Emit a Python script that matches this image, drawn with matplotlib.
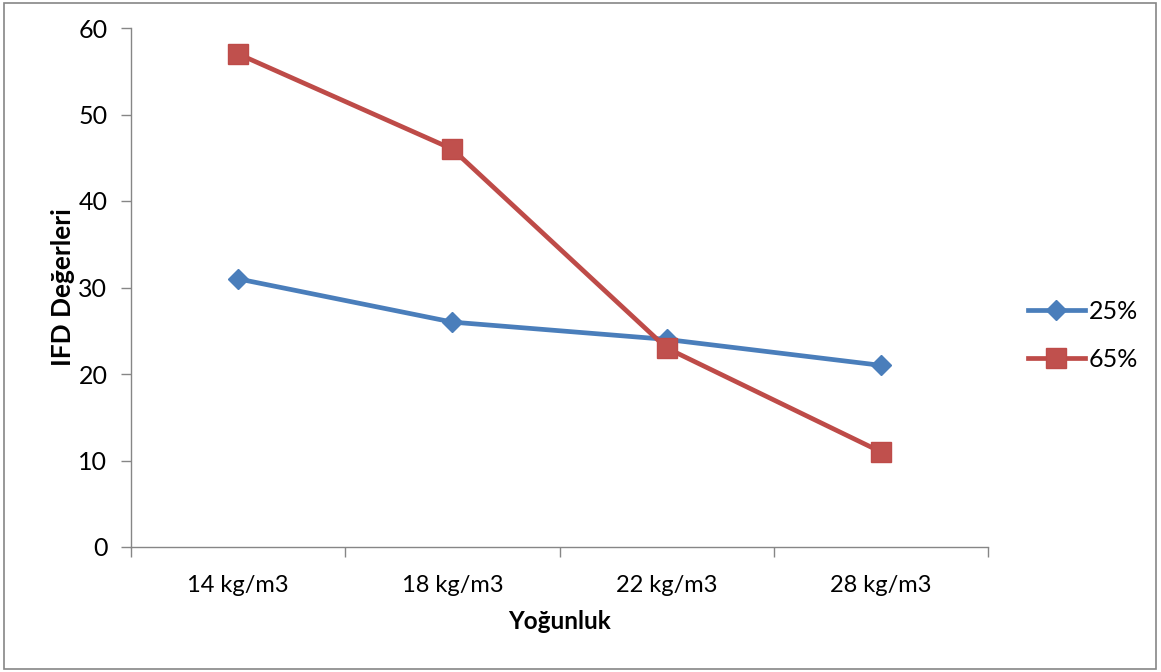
import matplotlib
matplotlib.use('Agg')
import matplotlib.pyplot as plt
from matplotlib.patches import Rectangle

categories = ['14 kg/m3', '18 kg/m3', '22 kg/m3', '28 kg/m3']
series_25 = [31, 26, 24, 21]
series_65 = [57, 46, 23, 11]
yticks = [0, 10, 20, 30, 40, 50, 60]

plt.rcParams['font.family'] = ['Lato', 'DejaVu Sans']

fig = plt.figure(figsize=(11.61, 6.72), dpi=100)
ax = fig.add_axes([131 / 1161, 125 / 672, 857 / 1161, 519 / 672])

x = list(range(len(categories)))
ax.plot(x, series_25, color='#4A7EBB', lw=3.4, marker='D', ms=10,
        mfc='#4A7EBB', mec='#4A7EBB', label='25%', zorder=3)
ax.plot(x, series_65, color='#BE4B48', lw=3.4, marker='s', ms=14,
        mfc='#C0504D', mec='#BE4B48', label='65%', zorder=3)

ax.set_xlim(-0.5, 3.5)
ax.set_ylim(0, 60)
ax.set_yticks(yticks)
ax.set_yticklabels([str(v) for v in yticks], fontsize=18)
ax.set_xticks([-0.5, 0.5, 1.5, 2.5, 3.5])
ax.set_xticklabels([])
ax.set_xticks(x, minor=True)
ax.set_xticklabels(categories, minor=True, fontsize=17)
ax.tick_params(axis='x', which='major', length=7, width=1, color='#868686', direction='out')
ax.tick_params(axis='x', which='minor', length=0, pad=20)
ax.tick_params(axis='y', length=7, width=1, color='#868686', direction='out', pad=10)

for s in ['top', 'right']:
    ax.spines[s].set_visible(False)
for s in ['left', 'bottom']:
    ax.spines[s].set_color('#868686')
    ax.spines[s].set_linewidth(1)

ax.set_ylabel('IFD Değerleri', fontsize=19, fontweight='bold', labelpad=2)
ax.set_xlabel('Yoğunluk', fontsize=17.5, fontweight='bold', labelpad=10)

leg = ax.legend(loc='center left', bbox_to_anchor=(1.02, 0.408), frameon=False,
                fontsize=18, handlelength=2.3, handletextpad=0.15, labelspacing=1.0)

fig.patches.append(Rectangle((4 / 1161, 3 / 672), 1152 / 1161, 666 / 672,
                             transform=fig.transFigure, fill=False,
                             edgecolor='#868686', lw=1.2))

plt.savefig('out.png', dpi=100)
